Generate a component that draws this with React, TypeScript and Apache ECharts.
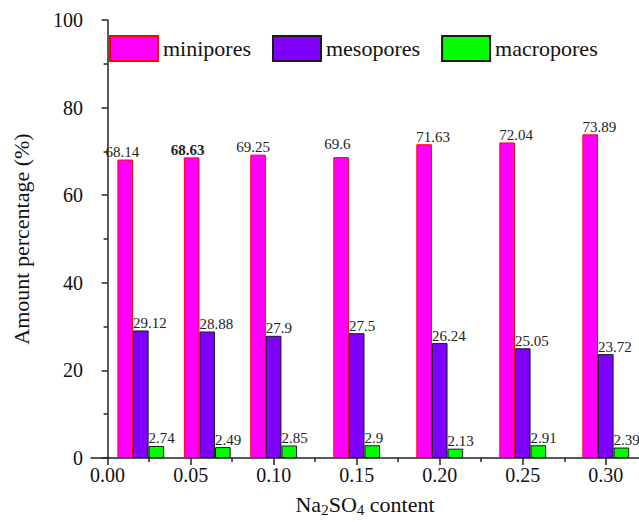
import React, { useEffect, useRef } from "react";
import * as echarts from "echarts";

// x positions of the bar groups
const groupPositions = [0.02, 0.06, 0.1, 0.15, 0.2, 0.25, 0.3];
const majorTicks = [0, 0.05, 0.1, 0.15, 0.2, 0.25, 0.3];
const minorTicks = [0.025, 0.075, 0.125, 0.175, 0.225, 0.275];

const seriesNames = ["minipores", "mesopores", "macropores"];
const miniporesValues = [68.14, 68.63, 69.25, 68.7, 71.63, 72.04, 73.89];
const miniporesLabels = ["68.14", "68.63", "69.25", "69.6", "71.63", "72.04", "73.89"];
const mesoporesValues = [29.12, 28.88, 27.9, 28.5, 26.24, 25.05, 23.72];
const mesoporesLabels = ["29.12", "28.88", "27.9", "27.5", "26.24", "25.05", "23.72"];
const macroporesValues = [2.74, 2.49, 2.85, 2.9, 2.13, 2.91, 2.39];
const macroporesLabels = ["2.74", "2.49", "2.85", "2.9", "2.13", "2.91", "2.39"];

const FONT = "Liberation Serif";

export default function App() {
  const ref = useRef<HTMLDivElement>(null);
  useEffect(() => {
    if (!ref.current) return;
    const chart = echarts.init(ref.current, undefined, { renderer: "svg" });
    const colors = ["#FF00FF", "#8000FF", "#00FF00"];
    const borders = ["#FF0000", "#1a1a1a", "#1a1a1a"];
    const values = [miniporesValues, mesoporesValues, macroporesValues];
    const labels = [miniporesLabels, mesoporesLabels, macroporesLabels];
    // label placement tweaks (style only), as in the reference picture
    const miniLabelShift = [[-12, 0], [-13, 0], [-14, 0], [-9, -6], [0, 0], [0, 0], [0, 0]];
    const boldItem = { series: 0, index: 1 };
    const series = seriesNames.map((name, s) => ({
      name,
      type: "bar",
      xAxisIndex: 0,
      yAxisIndex: 0,
      barWidth: 15.6,
      barGap: "0%",
      itemStyle: { color: colors[s], borderColor: borders[s], borderWidth: 1 },
      label: {
        show: true,
        position: [0, 0],
        align: "left",
        verticalAlign: "bottom",
        fontFamily: FONT,
        fontSize: 15,
        color: "#222",
        formatter: (p: any) => labels[s][p.dataIndex],
      },
      data: values[s].map((v, i) => {
        const item: any = { value: [groupPositions[i], v] };
        const lbl: any = {};
        if (s === 0) lbl.offset = miniLabelShift[i];
        if (boldItem.series === s && boldItem.index === i) lbl.fontWeight = "bold";
        item.label = lbl;
        return item;
      }),
    }));
    chart.setOption({
      animation: false,
      backgroundColor: "#fff",
      textStyle: { fontFamily: FONT },
      grid: { left: 91, top: 20, right: -2, bottom: 61, containLabel: false },
      legend: {
        data: seriesNames,
        left: 109,
        top: 35,
        padding: 0,
        itemWidth: 48,
        itemHeight: 25,
        itemGap: 21,
        icon: "rect",
        textStyle: { fontFamily: FONT, fontSize: 22, color: "#111" },
      },
      xAxis: [
        {
          type: "value",
          min: -0.01,
          max: 0.32,
          position: "bottom",
          name: "Na{sub|2}SO{sub|4} content",
          nameLocation: "middle",
          nameGap: 33,
          nameTextStyle: {
            fontFamily: FONT,
            fontSize: 22,
            color: "#111",
            rich: {
              sub: { fontFamily: FONT, fontSize: 15, color: "#111", padding: [11, 0, 0, 0] },
            },
          },
          axisLine: { show: true, lineStyle: { color: "#222", width: 1.5 } },
          axisTick: {
            show: true,
            length: 7,
            customValues: majorTicks,
            lineStyle: { color: "#222", width: 1.5 },
          },
          axisLabel: {
            show: true,
            customValues: majorTicks,
            margin: 7,
            fontFamily: FONT,
            fontSize: 20,
            color: "#111",
            formatter: (v: number) => v.toFixed(2),
          },
          splitLine: { show: false },
        },
        {
          type: "value",
          min: -0.01,
          max: 0.32,
          position: "bottom",
          axisLine: { show: false },
          axisTick: {
            show: true,
            length: 4,
            customValues: minorTicks,
            lineStyle: { color: "#222", width: 1.5 },
          },
          axisLabel: { show: false },
          splitLine: { show: false },
        },
      ],
      yAxis: {
        type: "value",
        min: 0,
        max: 100,
        interval: 20,
        name: "Amount percentage (%)",
        nameLocation: "middle",
        nameGap: 59,
        nameTextStyle: { fontFamily: FONT, fontSize: 22, color: "#111" },
        axisLine: { show: true, lineStyle: { color: "#222", width: 1.5 } },
        axisTick: { show: true, length: 6, lineStyle: { color: "#222", width: 1.5 } },
        minorTick: { show: true, splitNumber: 2, length: 4, lineStyle: { color: "#222", width: 1.5 } },
        axisLabel: { margin: 8, fontFamily: FONT, fontSize: 20, color: "#111" },
        splitLine: { show: false },
        minorSplitLine: { show: false },
      },
      series,
    });
    return () => chart.dispose();
  }, []);
  return (
    <div
      ref={ref}
      style={{ position: "fixed", left: 0, top: 0, width: 639, height: 522 }}
    />
  );
}
